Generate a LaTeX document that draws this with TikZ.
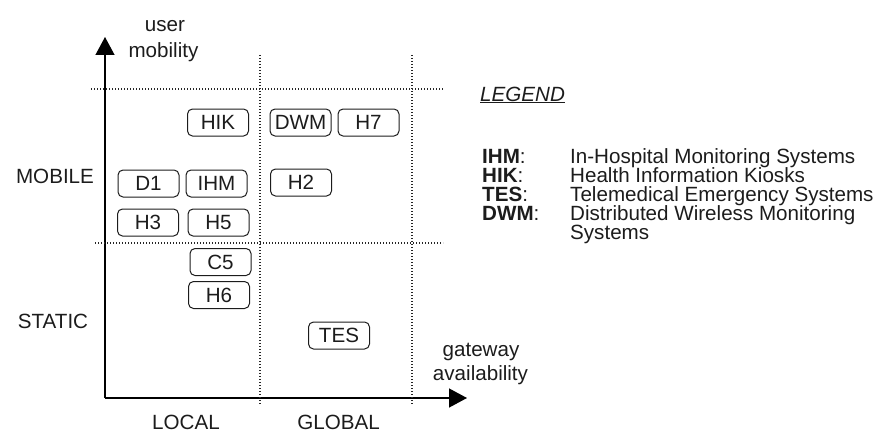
\documentclass[tikz,border=0pt]{standalone}
\usepackage{fontspec}
\setmainfont{Liberation Sans}
\usetikzlibrary{arrows.meta}
\definecolor{ink}{HTML}{1C1C1C}
\tikzset{
  txt/.style={font=\fontsize{20.6}{18.7}\selectfont, text=ink, inner sep=0pt},
  legtxt/.style={txt, anchor=base west, text height=14pt, text depth=4pt},
  sysbox/.style={txt, draw=ink, line width=1pt, rounded corners=5pt,
    minimum width=61pt, minimum height=27pt, text height=14.8pt, text depth=0pt},
  axis/.style={line width=1.3pt, draw=black, -{Triangle[length=18pt,width=19pt]}},
  grid/.style={line width=1.5pt, draw=black!85, dash pattern=on 1.4pt off 1.6pt},
}
\begin{document}
\begin{tikzpicture}[x=1pt,y=-1pt]
\useasboundingbox (0,0) rectangle (880,436);
% axes
\coordinate (O) at (105,398);
\coordinate (Ytip) at (105,37);
\coordinate (Xtip) at (467,398);
\draw[axis] (O) -- (Ytip);
\draw[axis] (O) -- (Xtip);
% dotted grid
\coordinate (h1a) at (91,89);  \coordinate (h1b) at (443,89);
\coordinate (h2a) at (95,243); \coordinate (h2b) at (443,243);
\coordinate (v1a) at (260,55); \coordinate (v1b) at (260,405);
\coordinate (v2a) at (412,55); \coordinate (v2b) at (412,405);
\draw[grid] (h1a) -- (h1b);
\draw[grid] (h2a) -- (h2b);
\draw[grid] (v1a) -- (v1b);
\draw[grid] (v2a) -- (v2b);
% axis labels
\node[txt, anchor=base] (user) at (165,32) {user};
\node[txt, anchor=base] (mob) at (163.5,57) {mobility};
\node[txt, anchor=base] (gw) at (481,356) {gateway};
\node[txt, anchor=base] (av) at (480.5,380) {availability};
\node[txt, anchor=base] (mobile) at (55,183) {MOBILE};
\node[txt, anchor=base] (static) at (53,328) {STATIC};
\node[txt, anchor=base] (local) at (186,429) {LOCAL};
\node[txt, anchor=base] (global) at (338.5,429) {GLOBAL};
% system boxes
\node[sysbox] (HIK) at (218,122.5) {HIK};
\node[sysbox] (DWM) at (300.5,122.5) {DWM};
\node[sysbox] (H7)  at (368.5,122.5) {H7};
\node[sysbox] (D1)  at (148.5,183.5) {D1};
\node[sysbox] (IHM) at (216.5,183.5) {IHM};
\node[sysbox] (H2)  at (301,182.5) {H2};
\node[sysbox] (H3)  at (148,222.5) {H3};
\node[sysbox] (H5)  at (218.5,222.5) {H5};
\node[sysbox] (C5)  at (220.5,262) {C5};
\node[sysbox] (H6)  at (219,295) {H6};
\node[sysbox] (TES) at (339,335.5) {TES};
% legend
\node[txt, anchor=base west] (leg) at (480,101) {\underline{\textit{LEGEND}}};
\node[legtxt] (l1) at (482,163) {\textbf{IHM}:};
\node[legtxt] (l2) at (482,182) {\textbf{HIK}:};
\node[legtxt] (l3) at (482,201) {\textbf{TES}:};
\node[legtxt] (l4) at (482,220) {\textbf{DWM}:};
\node[legtxt] (d1) at (570,163) {In-Hospital Monitoring Systems};
\node[legtxt] (d2) at (570,182) {Health Information Kiosks};
\node[legtxt] (d3) at (570,201) {Telemedical Emergency Systems};
\node[legtxt] (d4) at (570,220) {Distributed Wireless Monitoring};
\node[legtxt] (d5) at (570,239) {Systems};
\end{tikzpicture}
\end{document}
